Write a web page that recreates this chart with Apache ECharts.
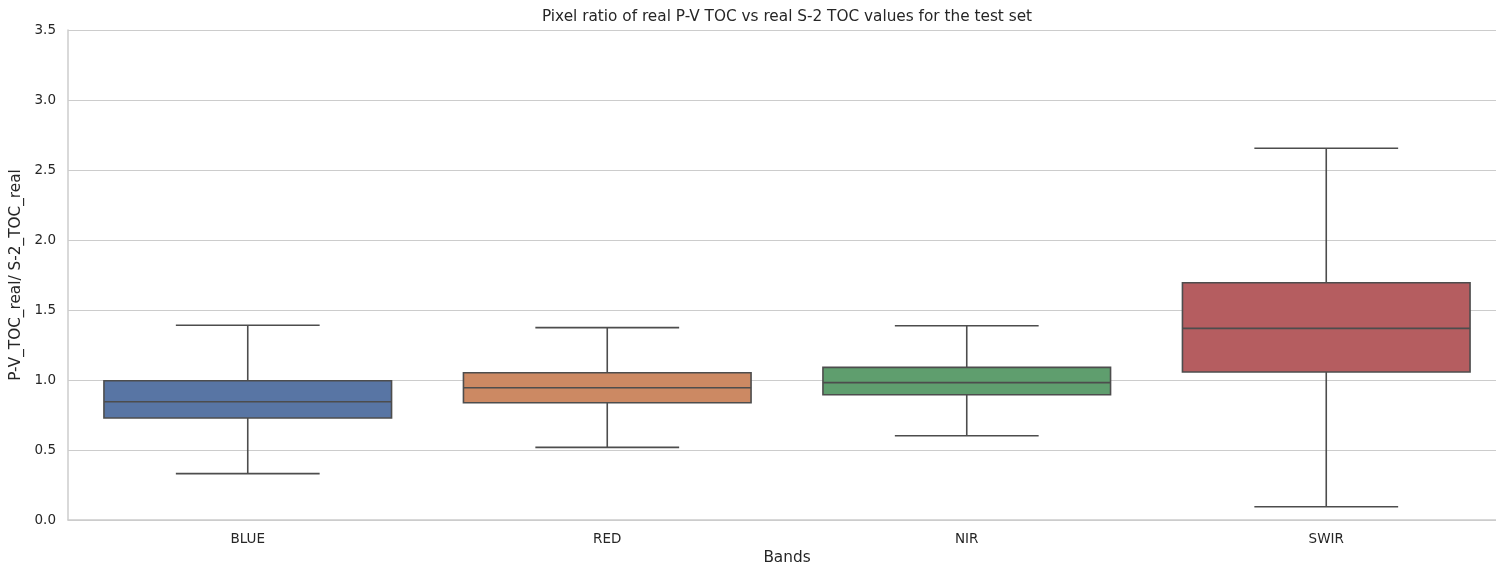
<!DOCTYPE html>
<html>
<head>
<meta charset="utf-8">
<style>
  html, body { margin: 0; padding: 0; background: #fff; }
  #chart { width: 1496px; height: 565px; }
</style>
<script src="https://cdn.jsdelivr.net/npm/echarts@6/dist/echarts.min.js"></script>
</head>
<body>
<div id="chart"></div>
<script>
// Band names along the x axis
const bands = ['BLUE', 'RED', 'NIR', 'SWIR'];
// Box statistics per band: whisker low, Q1, median, Q3, whisker high
const whiskerLow  = [0.331, 0.519, 0.602, 0.095];
const quartile1   = [0.729, 0.838, 0.895, 1.057];
const medians     = [0.845, 0.945, 0.981, 1.369];
const quartile3   = [0.995, 1.052, 1.090, 1.695];
const whiskerHigh = [1.391, 1.374, 1.388, 2.655];
// Fill colour per band
const boxColors = ['#5875a4', '#cc8963', '#5f9e6e', '#b55d60'];
// Y axis tick values
const yTicks = [0.0, 0.5, 1.0, 1.5, 2.0, 2.5, 3.0, 3.5];

const boxData = bands.map((b, i) => [i, whiskerLow[i], quartile1[i], medians[i], quartile3[i], whiskerHigh[i]]);

const FONT = 'DejaVu Sans';
const EDGE = '#4d4d4d';
const GRID_LEFT = 68;
const GRID_RIGHT = -10;   // plot area runs slightly past the canvas edge
const W = 1496;
const titleCenter = (GRID_LEFT + (W - GRID_RIGHT)) / 2;

function renderBox(params, api) {
  const i = api.value(0);
  const band = api.size([1, 0])[0];
  const boxW = band * 0.8;
  const capW = boxW / 2;
  const cMin = api.coord([i, api.value(1)]);
  const cQ1 = api.coord([i, api.value(2)]);
  const cMed = api.coord([i, api.value(3)]);
  const cQ3 = api.coord([i, api.value(4)]);
  const cMax = api.coord([i, api.value(5)]);
  const x = cMed[0];
  const line = { stroke: EDGE, lineWidth: 1.6, fill: null };
  return {
    type: 'group',
    children: [
      { type: 'line', shape: { x1: x, y1: cQ1[1], x2: x, y2: cMin[1] }, style: line },
      { type: 'line', shape: { x1: x, y1: cQ3[1], x2: x, y2: cMax[1] }, style: line },
      { type: 'line', shape: { x1: x - capW / 2, y1: cMin[1], x2: x + capW / 2, y2: cMin[1] }, style: line },
      { type: 'line', shape: { x1: x - capW / 2, y1: cMax[1], x2: x + capW / 2, y2: cMax[1] }, style: line },
      { type: 'rect', shape: { x: x - boxW / 2, y: cQ3[1], width: boxW, height: cQ1[1] - cQ3[1] },
        style: { fill: boxColors[i], stroke: EDGE, lineWidth: 1.6 } },
      { type: 'line', shape: { x1: x - boxW / 2, y1: cMed[1], x2: x + boxW / 2, y2: cMed[1] }, style: line }
    ]
  };
}

const chart = echarts.init(document.getElementById('chart'), null, { renderer: 'canvas' });
chart.setOption({
  animation: false,
  backgroundColor: '#ffffff',
  textStyle: { fontFamily: FONT },
  title: {
    text: 'Pixel ratio of real P-V TOC vs real S-2 TOC values for the test set',
    left: titleCenter, textAlign: 'center', top: 10, padding: 0,
    textStyle: { fontFamily: FONT, fontSize: 15.3, fontWeight: 'normal', color: '#262626' }
  },
  grid: { left: GRID_LEFT, right: GRID_RIGHT, top: 30, bottom: 45, containLabel: false, outerBoundsMode: 'none' },
  xAxis: {
    type: 'category',
    data: bands,
    name: 'Bands',
    nameLocation: 'middle',
    nameGap: 30,
    nameTextStyle: { fontFamily: FONT, fontSize: 15.3, color: '#262626' },
    axisLine: { show: true, lineStyle: { color: '#cccccc', width: 1.5 } },
    axisTick: { show: false },
    axisLabel: { fontFamily: FONT, fontSize: 13.5, color: '#262626', margin: 12 },
    splitLine: { show: false }
  },
  yAxis: {
    type: 'value',
    min: 0, max: 3.5, interval: 0.5,
    name: 'P-V_TOC_real/ S-2_TOC_real',
    nameLocation: 'middle',
    nameGap: 40,
    nameTextStyle: { fontFamily: FONT, fontSize: 15.3, color: '#262626' },
    axisLine: { show: true, lineStyle: { color: '#cccccc', width: 1.5 } },
    axisTick: { show: false },
    axisLabel: {
      fontFamily: FONT, fontSize: 13.5, color: '#262626', margin: 12,
      formatter: v => (yTicks.includes(v) ? v.toFixed(1) : '')
    },
    splitLine: { show: true, lineStyle: { color: '#cccccc', width: 1.2 } }
  },
  series: [{
    type: 'custom',
    renderItem: renderBox,
    encode: { x: 0, y: [1, 2, 3, 4, 5] },
    data: boxData,
    z: 3
  }]
});
</script>
</body>
</html>
